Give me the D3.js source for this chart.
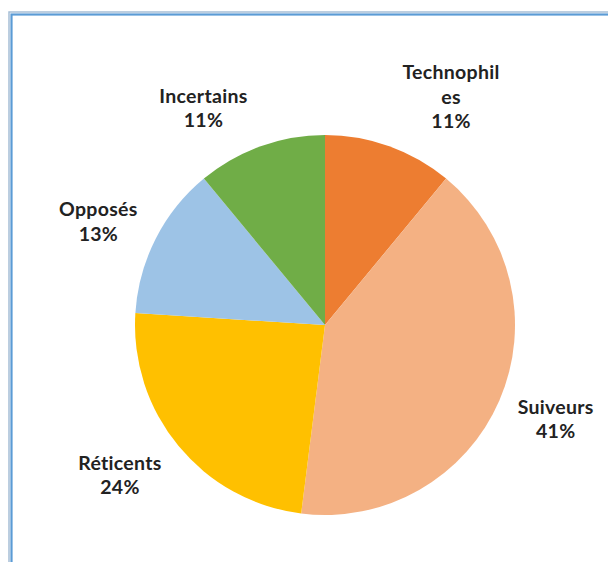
<!DOCTYPE html>
<html>
<head>
<meta charset="utf-8">
<script src="https://cdn.jsdelivr.net/npm/d3@7"></script>
<style>
  html, body { margin: 0; padding: 0; background: #fff; }
  svg { display: block; }
</style>
</head>
<body>
<svg id="chart" width="608" height="562"></svg>
<script>
const categories = ["Technophiles", "Suiveurs", "Réticents", "Opposés", "Incertains"];
const values = [11, 41, 24, 13, 11];
const colors = ["#ED7D31", "#F4B183", "#FFC000", "#9DC3E6", "#70AD47"];

const W = 608, H = 562;
const svg = d3.select("#chart");

// chart area border (double blue frame)
svg.append("rect").attr("x", 9).attr("y", 12).attr("width", W + 20).attr("height", H + 20)
  .attr("fill", "none").attr("stroke", "#A7BFD6").attr("stroke-width", 1.5);
svg.append("rect").attr("x", 11.5).attr("y", 14.5).attr("width", W + 20).attr("height", H + 20)
  .attr("fill", "none").attr("stroke", "#5B9BD5").attr("stroke-width", 2.2);

const cx = 325, cy = 325, r = 190;
const data = categories.map((c, i) => ({ name: c, value: values[i], color: colors[i] }));

const pie = d3.pie().value(d => d.value).sort(null);
const arcs = pie(data);
const arc = d3.arc().innerRadius(0).outerRadius(r);

const g = svg.append("g").attr("transform", `translate(${cx},${cy})`);
g.selectAll("path").data(arcs).join("path")
  .attr("d", arc)
  .attr("fill", d => d.data.color);

// labels: "best fit" outside the pie, box placed next to the arc point at mid-angle
const total = d3.sum(values);
function wrap(name) {
  const maxChars = 10;
  const lines = [];
  for (let i = 0; i < name.length; i += maxChars) lines.push(name.slice(i, i + maxChars));
  return lines;
}
const lineH = 24.5;
arcs.forEach(a => {
  const ang = (a.startAngle + a.endAngle) / 2;
  const s = Math.sin(ang), c = Math.cos(ang);
  const px = cx + r * s, py = cy - r * c;
  const lines = wrap(a.data.name);
  lines.push(Math.round(a.data.value / total * 100) + "%");
  const t = svg.append("text")
    .attr("text-anchor", "middle")
    .attr("font-family", "Lato, 'Open Sans', sans-serif")
    .attr("font-weight", "bold")
    .attr("font-size", 19.5)
    .attr("letter-spacing", 0.3)
    .attr("fill", "#222");
  const spans = lines.map(l => t.append("tspan").text(l));
  const w = d3.max(spans, sp => sp.node().getComputedTextLength());
  const h = lines.length * lineH;
  const x = px + Math.sign(s) * (w / 2 + 10 + 9 * Math.abs(s));
  const y = py - c * (h / 2 + 18) + 2;
  const y0 = y - (lines.length - 1) * lineH / 2;
  spans.forEach((sp, i) => sp.attr("x", x).attr("y", y0 + i * lineH).attr("dy", "0.35em"));
});
</script>
</body>
</html>
